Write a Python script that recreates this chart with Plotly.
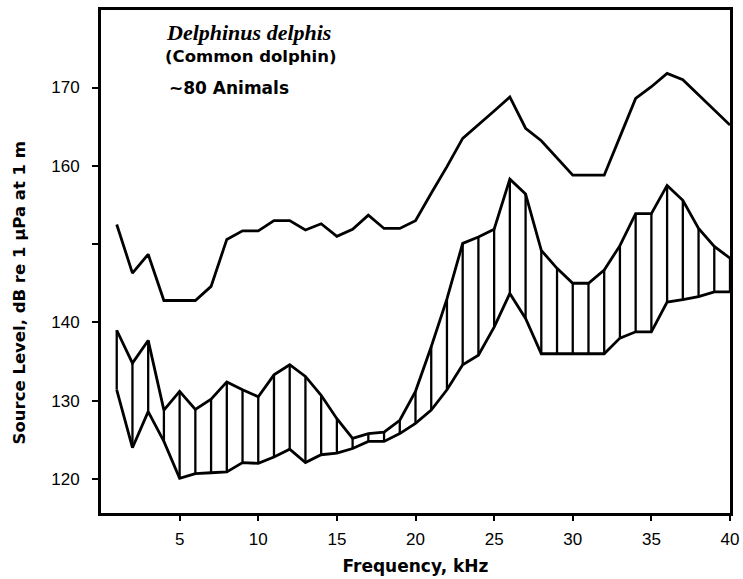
import plotly.graph_objects as go

freq_khz = list(range(1, 41))

upper_envelope = [152.5, 146.3, 148.7, 142.8, 142.8, 142.8, 144.6, 150.6, 151.7, 151.7,
                  153.0, 153.0, 151.8, 152.6, 151.0, 151.9, 153.7, 152.0, 152.0, 153.0,
                  156.5, 159.9, 163.5, 165.2, 167.0, 168.8, 164.8, 163.2, 161.0, 158.8,
                  158.8, 158.8, 163.7, 168.6, 170.1, 171.8, 171.0, 169.1, 167.1, 165.2]

band_high = [139.0, 134.8, 137.7, 128.8, 131.2, 128.9, 130.2, 132.4, 131.4, 130.5,
             133.3, 134.6, 133.1, 130.7, 127.7, 125.2, 125.8, 126.0, 127.5, 131.2,
             136.9, 143.0, 150.1, 150.9, 151.9, 158.3, 156.4, 149.2, 146.9, 145.0,
             145.0, 146.7, 149.8, 153.9, 153.9, 157.5, 155.6, 152.0, 149.7, 148.2]

band_low = [131.4, 124.0, 128.6, 124.8, 120.1, 120.7, 120.8, 120.9, 122.1, 122.0,
            122.8, 123.8, 122.1, 123.1, 123.3, 123.9, 124.8, 124.8, 125.8, 127.1,
            128.8, 131.4, 134.6, 135.8, 139.4, 143.7, 140.5, 136.0, 136.0, 136.0,
            136.0, 136.0, 138.0, 138.8, 138.8, 142.6, 142.9, 143.3, 143.9, 143.9]

y_tick_vals = [120, 130, 140, 150, 160, 170]
y_tick_text = ["120", "130", "140", "", "160", "170"]
x_tick_vals = [5, 10, 15, 20, 25, 30, 35, 40]

hx, hy = [], []
for f, lo, hi in zip(freq_khz, band_low, band_high):
    hx += [f, f, None]
    hy += [lo, hi, None]

fig = go.Figure()
fig.add_trace(go.Scatter(x=hx, y=hy, mode="lines",
                         line=dict(color="black", width=2.3), hoverinfo="skip"))
fig.add_trace(go.Scatter(x=freq_khz, y=band_high, mode="lines",
                         line=dict(color="black", width=2.8)))
fig.add_trace(go.Scatter(x=freq_khz, y=band_low, mode="lines",
                         line=dict(color="black", width=2.8)))
fig.add_trace(go.Scatter(x=freq_khz, y=upper_envelope, mode="lines",
                         line=dict(color="black", width=2.8)))

tick_font = "Liberation Sans"
title_font = "DejaVu Sans"

fig.update_layout(
    width=743, height=579,
    margin=dict(l=101, r=13, t=10, b=66),
    paper_bgcolor="white", plot_bgcolor="white",
    showlegend=False,
    font=dict(family=tick_font, color="black", size=16),
    xaxis=dict(range=[0, 40], tickvals=x_tick_vals, ticks="outside", ticklen=5,
               tickwidth=2, tickcolor="black", showline=True, linewidth=3,
               linecolor="black", mirror=True, showgrid=False, zeroline=False,
               ticklabelstandoff=4, automargin=False,
               tickfont=dict(family=tick_font, size=17, color="black"),
               title=dict(text="<b>Frequency, kHz</b>", standoff=12,
                          font=dict(family=title_font, size=17))),
    yaxis=dict(range=[115.66, 179.9], tickvals=y_tick_vals, ticktext=y_tick_text,
               ticks="outside", ticklen=6, tickwidth=2, tickcolor="black",
               ticklabelstandoff=9, automargin=False,
               showline=True, linewidth=3, linecolor="black", mirror=True,
               showgrid=False, zeroline=False,
               tickfont=dict(family=tick_font, size=17, color="black")),
)
fig.update_xaxes(tickprefix="<b>", ticksuffix="</b>")
fig.update_yaxes(tickprefix="<b>", ticksuffix="</b>")

fig.add_annotation(xref="paper", yref="paper", x=-0.130, y=0.437, xanchor="center",
                   yanchor="middle", showarrow=False, textangle=-90,
                   text="<b>Source Level, dB re 1 \u03bcPa at 1 m</b>",
                   font=dict(family=title_font, size=16.5, color="black"))
fig.add_annotation(xref="paper", yref="paper", x=0.100, y=0.955, xanchor="left",
                   yanchor="middle", showarrow=False,
                   text="<b><i>Delphinus delphis</i></b>",
                   font=dict(family="Liberation Serif", size=22, color="black"))
fig.add_annotation(xref="paper", yref="paper", x=0.098, y=0.907, xanchor="left",
                   yanchor="middle", showarrow=False,
                   text="<b>(Common dolphin)</b>",
                   font=dict(family=title_font, size=16.5, color="black"))
fig.add_annotation(xref="paper", yref="paper", x=0.105, y=0.845, xanchor="left",
                   yanchor="middle", showarrow=False,
                   text="<b>~80 Animals</b>",
                   font=dict(family=title_font, size=17, color="black"))

fig.write_html("out.html")
